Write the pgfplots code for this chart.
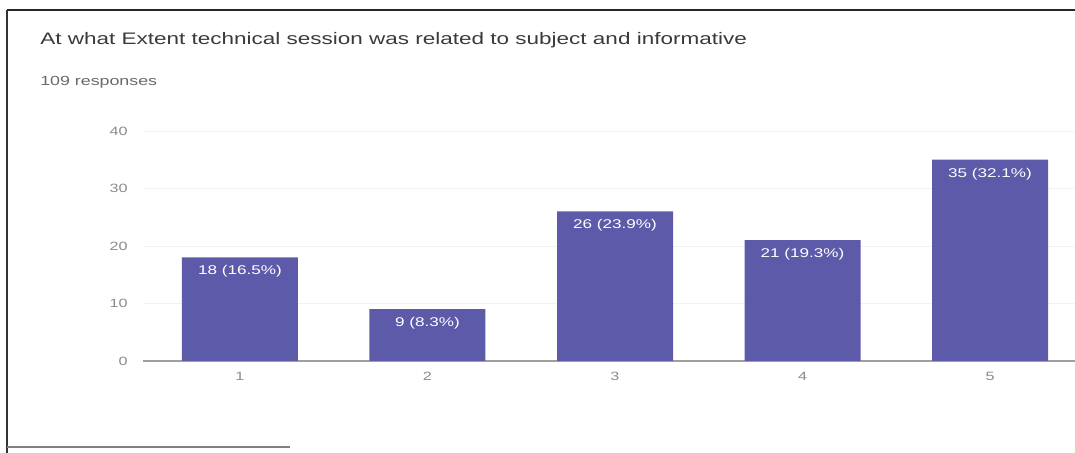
\documentclass[border=0pt]{standalone}
\usepackage{pgfplots}
\pgfplotsset{compat=1.18}
\usepackage{fontspec}
\setmainfont{Liberation Sans}[FakeStretch=1.35]
\definecolor{barcol}{HTML}{5E5AAA}
\definecolor{titlecol}{HTML}{3A3A3A}
\definecolor{subcol}{HTML}{6A6A6A}
\definecolor{tickcol}{HTML}{8A8A8A}
\begin{document}
\begin{tikzpicture}[x=0.75pt,y=0.75pt]
\useasboundingbox (0,0) rectangle (1075,453);
% frame
\draw[black!85, line width=1.4pt] (7,443) -- (1075,443);
\draw[black!80, line width=1.1pt] (7,443) -- (7,0);
\draw[black!50, line width=0.8pt] (7,6) -- (290,6);
% title
\node[anchor=base west, inner sep=0pt, text=titlecol, font=\fontsize{12.5}{15}\selectfont] at (40,408) {At what Extent technical session was related to subject and informative};
\node[anchor=base west, inner sep=0pt, text=subcol, font=\fontsize{9.9}{12}\selectfont] at (40,367) {109 responses};
\begin{axis}[
  at={(107.25pt,69pt)}, anchor=south west,
  scale only axis, width=699pt, height=172.5pt,
  xmin=0.483, xmax=5.453, ymin=0, ymax=40,
  axis x line=bottom, axis y line=left,
  y axis line style={draw=none},
  x axis line style={-, draw=gray!75, line width=0.9pt},
  xtick={1,2,3,4,5}, ytick={0,10,20,30,40},
  major tick length=0pt,
  ymajorgrids, grid style={gray!10, line width=0.6pt},
  /pgf/number format/assume math mode=true,
  tick label style={text=tickcol, font=\fontsize{9}{10}\selectfont},
  yticklabel style={xshift=-8pt},
  xticklabel style={yshift=-5pt},
  clip=false,
]
\addplot[ybar, bar width=87pt, fill=barcol, draw=none,
  point meta=explicit symbolic,
  nodes near coords,
  every node near coord/.append style={anchor=north, text=white, inner sep=0pt, yshift=-6pt, font=\fontsize{9.5}{11}\selectfont},
] coordinates {
  (1,18) [18 (16.5\%)]
  (2,9) [9 (8.3\%)]
  (3,26) [26 (23.9\%)]
  (4,21) [21 (19.3\%)]
  (5,35) [35 (32.1\%)]
};
\end{axis}
\end{tikzpicture}
\end{document}
